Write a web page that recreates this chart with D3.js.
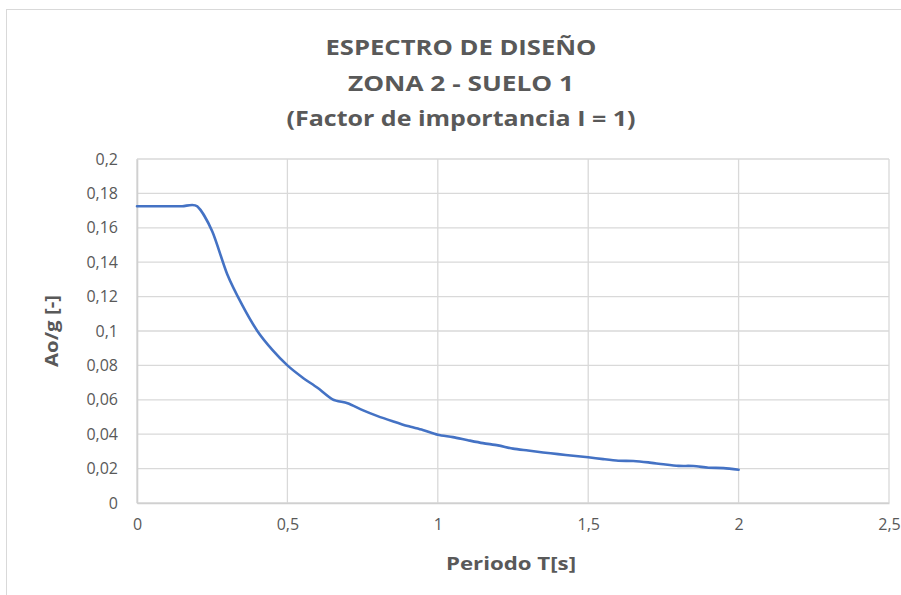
<!DOCTYPE html>
<html>
<head>
<meta charset="utf-8">
<script src="https://cdn.jsdelivr.net/npm/d3@7"></script>
<style>
  html, body { margin: 0; padding: 0; background: #fff; }
  svg { display: block; }
</style>
</head>
<body>
<script>
const titleLines = ["ESPECTRO DE DISEÑO", "ZONA 2 - SUELO 1", "(Factor de importancia I = 1)"];
const xLabel = "Periodo T[s]";
const yLabel = "Ao/g [-]";
const xTicks = [0, 0.5, 1, 1.5, 2, 2.5];
const yTicks = [0, 0.02, 0.04, 0.06, 0.08, 0.1, 0.12, 0.14, 0.16, 0.18, 0.2];
const periods = [0, 0.05, 0.1, 0.15, 0.2, 0.25, 0.3, 0.35, 0.4, 0.45, 0.5, 0.55, 0.6, 0.65, 0.7, 0.75, 0.8, 0.85, 0.9, 0.95, 1.0,
  1.05, 1.1, 1.15, 1.2, 1.25, 1.3, 1.35, 1.4, 1.45, 1.5, 1.55, 1.6, 1.65, 1.7, 1.75, 1.8, 1.85, 1.9, 1.95, 2.0];
const spectrum = [0.1725, 0.1725, 0.1725, 0.1725, 0.1725, 0.158, 0.133, 0.115, 0.1, 0.089, 0.08, 0.073, 0.067, 0.0603, 0.058, 0.054,
  0.0505, 0.0475, 0.0447, 0.0425, 0.0397, 0.0383, 0.0365, 0.0348, 0.0335, 0.0316, 0.0305, 0.0294, 0.0284, 0.0275, 0.0266,
  0.0255, 0.0246, 0.0244, 0.0236, 0.0225, 0.0216, 0.0215, 0.0205, 0.0203, 0.0193];

const W = 901, H = 595;
const svg = d3.select("body").append("svg").attr("width", W).attr("height", H);
svg.append("rect").attr("x", 6.5).attr("y", 9.5).attr("width", W + 10).attr("height", H + 10)
  .attr("fill", "#fff").attr("stroke", "#d9d9d9").attr("stroke-width", 1);

const x = d3.scaleLinear().domain([0, 2.5]).range([137, 889]);
const y = d3.scaleLinear().domain([0, 0.2]).range([503, 159]);
const fmt = v => String(v).replace(".", ",");
const font = "'Open Sans', 'Liberation Sans', sans-serif";
const textCol = "#595959";

// gridlines
const g = svg.append("g");
g.selectAll(".hg").data(yTicks).join("line")
  .attr("x1", x(0)).attr("x2", x(2.5)).attr("y1", d => y(d)).attr("y2", d => y(d))
  .attr("stroke", "#d9d9d9").attr("stroke-width", 1.3);
g.selectAll(".vg").data(xTicks).join("line")
  .attr("y1", y(0)).attr("y2", y(0.2)).attr("x1", d => x(d)).attr("x2", d => x(d))
  .attr("stroke", "#d9d9d9").attr("stroke-width", 1.3);

// axes
const xAxis = d3.axisBottom(x).tickValues(xTicks).tickFormat(fmt).tickSize(0).tickPadding(16);
const yAxis = d3.axisLeft(y).tickValues(yTicks).tickFormat(fmt).tickSize(0).tickPadding(19);
const gx = svg.append("g").attr("transform", `translate(0,${y(0)})`).call(xAxis);
const gy = svg.append("g").attr("transform", `translate(${x(0)},0)`).call(yAxis);
[gx, gy].forEach(a => {
  a.attr("font-family", font).attr("font-size", 16);
  a.select(".domain").attr("stroke", "#d0d0d0").attr("stroke-width", 1.6);
  a.selectAll("text").attr("fill", textCol);
});

// line
const line = d3.line().x((d, i) => x(periods[i])).y(d => y(d)).curve(d3.curveCardinal.tension(0.2));
svg.append("path").datum(spectrum).attr("d", line)
  .attr("fill", "none").attr("stroke", "#4472c4").attr("stroke-width", 2.6)
  .attr("stroke-linejoin", "round").attr("stroke-linecap", "round");

// titles
const tw = [271, 226, 349];
svg.selectAll(".title").data(titleLines).join("text")
  .attr("x", 461).attr("y", (d, i) => 55 + i * 35.5)
  .attr("text-anchor", "middle")
  .attr("textLength", (d, i) => tw[i]).attr("lengthAdjust", "spacingAndGlyphs")
  .attr("fill", textCol).attr("font-family", font).attr("font-weight", "bold").attr("font-size", 22)
  .text(d => d);

svg.append("text").attr("x", 511).attr("y", 570).attr("text-anchor", "middle")
  .attr("textLength", 130).attr("lengthAdjust", "spacingAndGlyphs")
  .attr("fill", textCol).attr("font-family", font).attr("font-weight", "bold").attr("font-size", 18)
  .text(xLabel);
svg.append("text").attr("transform", "translate(58,331) rotate(-90)").attr("text-anchor", "middle")
  .attr("textLength", 72).attr("lengthAdjust", "spacingAndGlyphs")
  .attr("fill", textCol).attr("font-family", font).attr("font-weight", "bold").attr("font-size", 18)
  .text(yLabel);
</script>
</body>
</html>
